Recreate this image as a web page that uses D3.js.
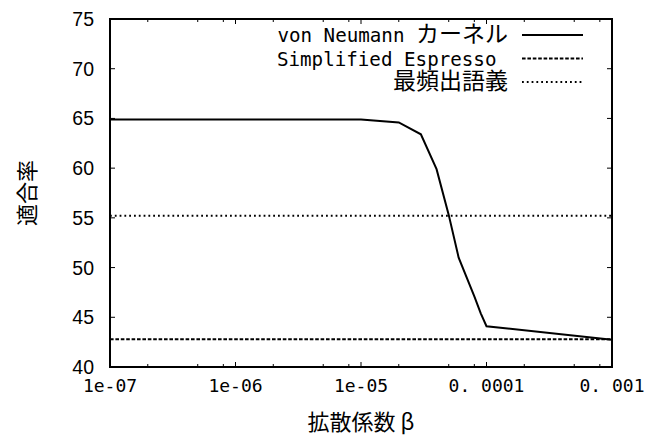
<!DOCTYPE html>
<html>
<head>
  <meta charset="utf-8">
  <title>適合率 vs 拡散係数</title>
  <style>
    body { margin: 0; background: #fff; }
    text { white-space: pre; }
  </style>
</head>
<body>
  <div id="chart"></div>
<script src="https://cdn.jsdelivr.net/npm/d3@7"></script>
<script>
// data
var betaValues = [1e-7, 1e-6, 1e-5, 2e-5, 3e-5, 4e-5, 5e-5, 6e-5, 8e-5, 9e-5, 1e-4, 1e-3];
var vonNeumannValues = [64.9, 64.9, 64.9, 64.6, 63.4, 59.9, 55.3, 51.0, 47.1, 45.4, 44.1, 42.75];
var espressoValue = 42.8;
var mostFrequentValue = 55.2;

var xTickValues = [1e-7, 1e-6, 1e-5, 1e-4, 1e-3];
var xTickLabels = ["1e-07", "1e-06", "1e-05", "0. 0001", "0. 001"];
var yTickValues = [40, 45, 50, 55, 60, 65, 70, 75];
var legendLabels = [["von Neumann ", "カーネル"], ["Simplified Espresso ", ""], ["", "最頻出語義"]];

var w = 660;
var h = 439;
// note: "top" is a reserved window property, so use plot* names
var plotLeft = 110, plotRight = 612, plotTop = 19, plotBottom = 367;

var monoFont = "'DejaVu Sans Mono', 'Liberation Mono', monospace";
var cjkFont = "'Noto Sans CJK JP', sans-serif";

var svg = d3.select("#chart")
            .append("svg")
            .attr("width", w)
            .attr("height", h);

var x = d3.scaleLog().domain([1e-7, 1e-3]).range([plotLeft, plotRight]);
var y = d3.scaleLinear().domain([40, 75]).range([plotBottom, plotTop]);

// minor ticks at 2, 5, 8 of each decade
var minorX = [];
[1e-7, 1e-6, 1e-5, 1e-4].forEach(function (d) {
  [2, 5, 8].forEach(function (m) { minorX.push(d * m); });
});

var ticks = svg.append("g").attr("stroke", "#000").attr("stroke-width", 1);
xTickValues.forEach(function (d) {
  ticks.append("line").attr("x1", x(d)).attr("x2", x(d)).attr("y1", plotBottom).attr("y2", plotBottom - 5);
  ticks.append("line").attr("x1", x(d)).attr("x2", x(d)).attr("y1", plotTop).attr("y2", plotTop + 5);
});
minorX.forEach(function (d) {
  ticks.append("line").attr("x1", x(d)).attr("x2", x(d)).attr("y1", plotBottom).attr("y2", plotBottom - 3);
  ticks.append("line").attr("x1", x(d)).attr("x2", x(d)).attr("y1", plotTop).attr("y2", plotTop + 3);
});
yTickValues.forEach(function (d) {
  ticks.append("line").attr("x1", plotLeft).attr("x2", plotLeft + 5).attr("y1", y(d)).attr("y2", y(d));
  ticks.append("line").attr("x1", plotRight).attr("x2", plotRight - 5).attr("y1", y(d)).attr("y2", y(d));
});

// tick labels
svg.selectAll("text.ytick")
   .data(yTickValues)
   .enter()
   .append("text")
   .attr("class", "ytick")
   .attr("x", 94)
   .attr("y", function (d) { return y(d); })
   .attr("dy", "0.36em")
   .attr("text-anchor", "end")
   .attr("font-family", "'Liberation Sans', Arial, sans-serif")
   .attr("font-size", "19.5px")
   .text(function (d) { return d; });

svg.selectAll("text.xtick")
   .data(xTickValues)
   .enter()
   .append("text")
   .attr("class", "xtick")
   .attr("x", function (d) { return x(d); })
   .attr("y", 392)
   .attr("text-anchor", "middle")
   .attr("font-family", monoFont)
   .attr("font-size", "18px")
   .text(function (d, i) { return xTickLabels[i]; });

// series
var line = d3.line()
             .x(function (d) { return x(d[0]); })
             .y(function (d) { return y(d[1]); });

svg.append("path")
   .datum(betaValues.map(function (b, i) { return [b, vonNeumannValues[i]]; }))
   .attr("d", line)
   .attr("fill", "none")
   .attr("stroke", "#000")
   .attr("stroke-width", 2);

svg.append("line")
   .attr("x1", plotLeft).attr("x2", plotRight)
   .attr("y1", y(espressoValue)).attr("y2", y(espressoValue))
   .attr("stroke", "#000")
   .attr("stroke-width", 2)
   .attr("stroke-dasharray", "3.6,1.8");

svg.append("line")
   .attr("x1", plotLeft).attr("x2", plotRight)
   .attr("y1", y(mostFrequentValue)).attr("y2", y(mostFrequentValue))
   .attr("stroke", "#000")
   .attr("stroke-width", 2)
   .attr("stroke-dasharray", "1.8,3");

// frame
svg.append("rect")
   .attr("x", plotLeft).attr("y", plotTop)
   .attr("width", plotRight - plotLeft).attr("height", plotBottom - plotTop)
   .attr("fill", "none")
   .attr("stroke", "#000")
   .attr("stroke-width", 2);

// legend
var legendDash = [null, "3.6,1.8", "1.8,3"];
var legendY = [35, 58.5, 82];
legendLabels.forEach(function (lab, i) {
  var t = svg.append("text")
             .attr("x", 508)
             .attr("y", legendY[i] + 7)
             .attr("text-anchor", "end");
  if (lab[0]) {
    t.append("tspan").attr("font-family", monoFont).attr("font-size", "19.2px").text(lab[0]);
  }
  if (lab[1]) {
    t.append("tspan").attr("font-family", cjkFont).attr("font-size", "23px").text(lab[1]);
  }
  svg.append("line")
     .attr("x1", 522).attr("x2", 583)
     .attr("y1", legendY[i]).attr("y2", legendY[i])
     .attr("stroke", "#000")
     .attr("stroke-width", 2)
     .attr("stroke-dasharray", legendDash[i]);
});

// axis titles
svg.append("text")
   .attr("x", 361)
   .attr("y", 430)
   .attr("text-anchor", "middle")
   .attr("font-family", cjkFont)
   .attr("font-size", "22px")
   .text("拡散係数 β");

svg.append("text")
   .attr("transform", "translate(27," + ((plotTop + plotBottom) / 2) + ") rotate(-90)")
   .attr("text-anchor", "middle")
   .attr("dy", "0.35em")
   .attr("font-family", cjkFont)
   .attr("font-size", "22px")
   .text("適合率");
</script>
</body>
</html>
